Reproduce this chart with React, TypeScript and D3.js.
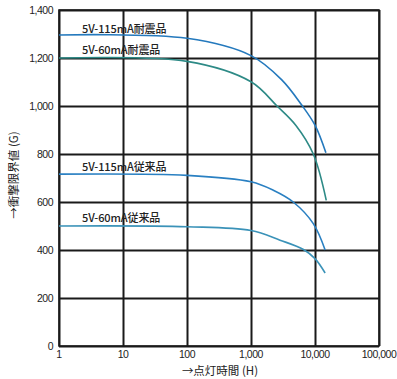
import React from "react";
import * as d3 from "d3";

// hours vs shock limit (G)
const hours115Resist = [1, 100, 1000, 3000, 6200, 10000, 14800];
const g115Resist = [1296, 1282, 1210, 1110, 1004, 920, 805];

const hours60Resist = [1, 100, 1000, 2550, 5000, 9400, 15000];
const g60Resist = [1200, 1186, 1101, 1000, 920, 800, 607];

const hours115Std = [1, 100, 1000, 2230, 4560, 9400, 14400];
const g115Std = [716, 711, 684, 649, 600, 510, 400];

const hours60Std = [1, 100, 1000, 2840, 6600, 10000, 14400];
const g60Std = [500, 497, 481, 441, 402, 364, 304];

const xTicks = [1, 10, 100, 1000, 10000, 100000];
const yTicks = [0, 200, 400, 600, 800, 1000, 1200, 1400];

const seriesNames = ["5V-115mA耐震品", "5V-60mA耐震品", "5V-115mA従来品", "5V-60mA従来品"];
const seriesColors = ["#2479bd", "#2d8a86", "#2a80c2", "#3a92b8"];
const labelValues = [1305, 1217, 728, 515];

const W = 397, H = 379;
const m = { left: 59, right: 18, top: 10, bottom: 33 };

export default function App() {
  const x = d3.scaleLog().domain([1, 100000]).range([m.left, W - m.right]);
  const y = d3.scaleLinear().domain([0, 1400]).range([H - m.bottom, m.top]);

  const series = [
    hours115Resist.map((h, i) => [h, g115Resist[i]]),
    hours60Resist.map((h, i) => [h, g60Resist[i]]),
    hours115Std.map((h, i) => [h, g115Std[i]]),
    hours60Std.map((h, i) => [h, g60Std[i]]),
  ];

  const lineGen = d3.line<number[]>()
    .x(d => x(d[0]))
    .y(d => y(d[1]))
    .curve(d3.curveCatmullRom.alpha(0.5));

  const numFont = "'Liberation Sans', Arial, sans-serif";
  const jpFont = "'Noto Sans CJK JP', sans-serif";

  return (
    <svg width={W} height={H} style={{ position: "absolute", left: 0, top: 0, background: "#fff" }}>
      <rect x={x(1)} y={y(1400)} width={x(100000) - x(1)} height={y(0) - y(1400)}
        fill="none" stroke="#222" strokeWidth={1.6} />
      <g>
        {xTicks.map(t => (
          <line key={"gx" + t} x1={Math.round(x(t)) + 0.5} x2={Math.round(x(t)) + 0.5}
            y1={y(0)} y2={y(1400)} stroke="#1a1a1a" strokeWidth={2} />
        ))}
        {yTicks.map(t => (
          <line key={"gy" + t} x1={x(1)} x2={x(100000)}
            y1={Math.round(y(t)) + 0.5} y2={Math.round(y(t)) + 0.5} stroke="#1a1a1a" strokeWidth={2} />
        ))}
      </g>

      {series.map((s, i) => (
        <path key={"s" + i} d={lineGen(s) || ""} fill="none" stroke={seriesColors[i]} strokeWidth={1.6} />
      ))}

      {seriesNames.map((n, i) => (
        <text key={"l" + i} x={82} y={y(labelValues[i])} fontFamily={jpFont} fontSize={11}
          fontWeight={500} fill="#222" letterSpacing={-0.1}>{n}</text>
      ))}

      {yTicks.map(t => (
        <text key={"ty" + t} x={53} y={y(t) + 4} textAnchor="end" fontFamily={numFont}
          fontSize={10.5} fill="#222" letterSpacing={-0.5}>{d3.format(",")(t)}</text>
      ))}
      {xTicks.map(t => (
        <text key={"tx" + t} x={x(t)} y={358} textAnchor="middle" fontFamily={numFont}
          fontSize={10.5} fill="#222" letterSpacing={-0.5}>{d3.format(",")(t)}</text>
      ))}

      <text x={220} y={375} textAnchor="middle" fontFamily={jpFont} fontSize={11.5} fill="#222">→点灯時間 (H)</text>
      <text transform={`translate(18,${175}) rotate(-90)`} textAnchor="middle" fontFamily={jpFont}
        fontSize={11.5} fill="#222">→衝撃限界値 (G)</text>
    </svg>
  );
}
